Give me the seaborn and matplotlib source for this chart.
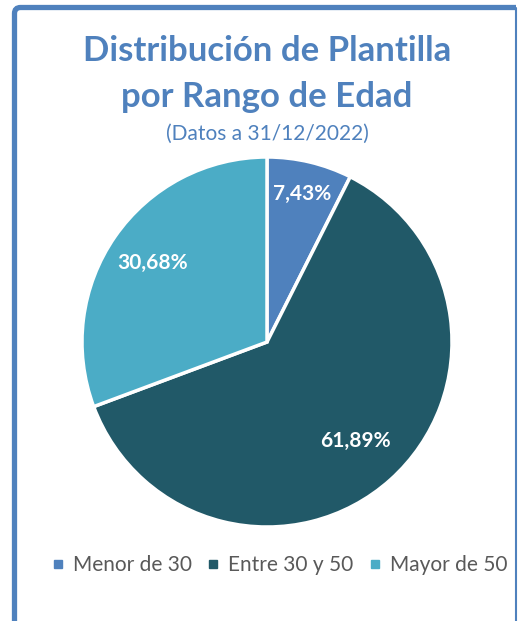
import numpy as np
import matplotlib
matplotlib.use("Agg")
import matplotlib.pyplot as plt
import seaborn as sns
from matplotlib.path import Path
from matplotlib.patches import PathPatch
from matplotlib.lines import Line2D

categories = ["Menor de 30", "Entre 30 y 50", "Mayor de 50"]
values = [7.43, 61.89, 30.68]
pct_labels = ["7,43%", "61,89%", "30,68%"]
title_lines = ["Distribución de Plantilla", "por Rango de Edad"]
subtitle = "(Datos a 31/12/2022)"

colors = ["#4F81BD", "#215968", "#4BACC6"]
label_dist = [0.82, 0.72, 0.75]
blue = "#4F81BD"

sns.set_theme(style="white")
plt.rcParams["font.family"] = ["Lato", "DejaVu Sans"]

W, H = 518, 621
fig = plt.figure(figsize=(W / 100, H / 100), dpi=100)
fig.patch.set_facecolor("white")

cx, cy, R = 267, 342, 185
ax = fig.add_axes([(cx - R) / W, (H - cy - R) / H, 2 * R / W, 2 * R / H])
wedges, _ = ax.pie(values, colors=colors, startangle=90, counterclock=False,
                   wedgeprops=dict(edgecolor="white", linewidth=2.5))
ax.set_xlim(-1, 1)
ax.set_ylim(-1, 1)
ax.set_aspect("auto")
ax.axis("off")

for w, lab, d in zip(wedges, pct_labels, label_dist):
    ang = np.deg2rad((w.theta1 + w.theta2) / 2)
    ax.text(d * np.cos(ang), d * np.sin(ang), lab, ha="center", va="center",
            color="white", fontsize=15, fontweight="bold")

fig.text(cx / W, 1 - 51 / H, title_lines[0], ha="center", va="center",
         color=blue, fontsize=25, fontweight="bold")
fig.text(cx / W, 1 - 97 / H, title_lines[1], ha="center", va="center",
         color=blue, fontsize=25, fontweight="bold")
fig.text(cx / W, 1 - 134 / H, subtitle, ha="center", va="center",
         color=blue, fontsize=15)

handles = [Line2D([], [], linestyle="none", marker="s", markersize=6,
                  markerfacecolor=c, markeredgecolor=c) for c in colors]
leg = fig.legend(handles, categories, loc="center", bbox_to_anchor=(279 / W, 1 - 565 / H),
                 ncol=3, frameon=False, fontsize=15, handlelength=0.7,
                 handletextpad=0.35, columnspacing=0.7, labelcolor="#595959",
                 borderpad=0.1)

# chart frame (thick left/top with rounded corner, thin right)
def fx(x):
    return x / W

def fy(y):
    return 1 - y / H

r = 6
verts = [(fx(14.5), fy(640)), (fx(14.5), fy(7.5 + r)),
         (fx(14.5), fy(7.5)), (fx(14.5 + r), fy(7.5)),
         (fx(516), fy(7.5))]
codes = [Path.MOVETO, Path.LINETO, Path.CURVE3, Path.CURVE3, Path.LINETO]
fig.add_artist(PathPatch(Path(verts, codes), facecolor="none", edgecolor=blue,
                         linewidth=3.8, transform=fig.transFigure))
fig.add_artist(Line2D([fx(515.5), fx(515.5)], [fy(8), fy(640)], color=blue,
                      linewidth=1.5, transform=fig.transFigure))

fig.savefig("out.png", dpi=100, facecolor="white")
